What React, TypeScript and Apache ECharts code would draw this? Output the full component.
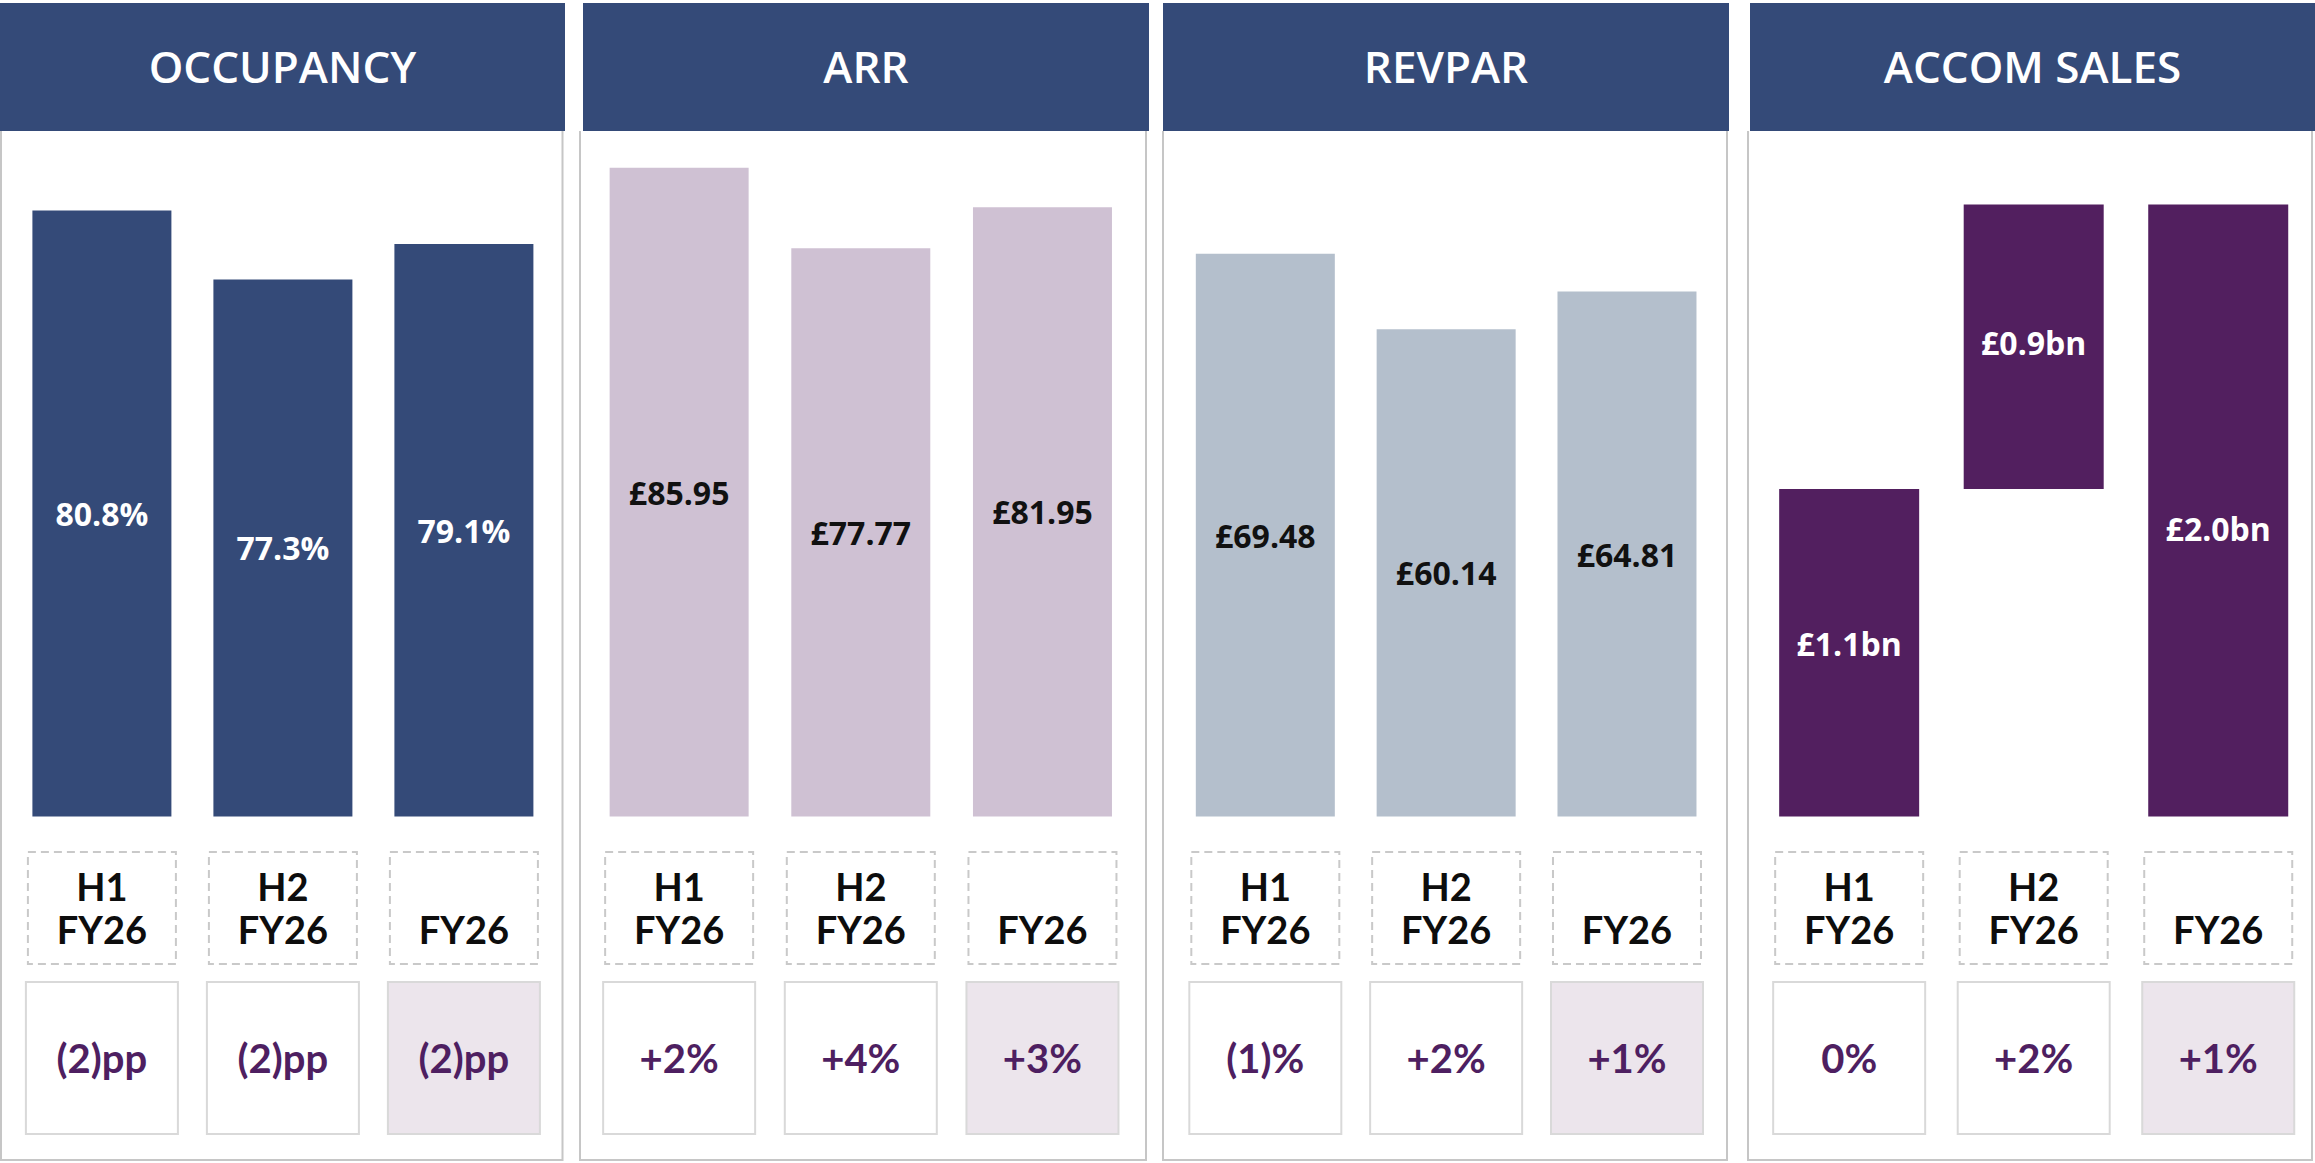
import React, { useEffect, useRef } from "react";
import * as echarts from "echarts";

// ---- data ----
const panelTitles = ["OCCUPANCY", "ARR", "REVPAR", "ACCOM SALES"];
const periods = ["H1 FY26", "H2 FY26", "FY26"];

const occupancy = [80.8, 77.3, 79.1];
const occupancyLabels = ["80.8%", "77.3%", "79.1%"];
const occupancyChange = ["(2)pp", "(2)pp", "(2)pp"];

const arr = [85.95, 77.77, 81.95];
const arrLabels = ["£85.95", "£77.77", "£81.95"];
const arrChange = ["+2%", "+4%", "+3%"];

const revpar = [69.48, 60.14, 64.81];
const revparLabels = ["£69.48", "£60.14", "£64.81"];
const revparChange = ["(1)%", "+2%", "+1%"];

const accomSales = [1.07, 0.93, 2.0]; // £bn
const accomBase = [0, 1.07, 0]; // waterfall offset (H2 sits on H1)
const accomLabels = ["£1.1bn", "£0.9bn", "£2.0bn"];
const accomChange = ["0%", "+2%", "+1%"];

// ---- layout / style (not data) ----
const W = 2315;
const H = 1163;
const NAVY = "#344a78";
const PURPLE_TXT = "#4e1f61";
const accomLabelShift = [-9, -4, 18];

const panels = [
  {
    values: occupancy, labels: occupancyLabels, change: occupancyChange,
    color: NAVY, labelColor: "#ffffff", min: 50, max: 85,
    gridLeft: 11.4, gridWidth: 543, barWidth: 139,
    header: [0, 565], body: [1, 562.5],
  },
  {
    values: arr, labels: arrLabels, change: arrChange,
    color: "#cfc1d3", labelColor: "#111111", min: 20, max: 90,
    gridLeft: 588.3, gridWidth: 545, barWidth: 139,
    header: [583, 1149], body: [580, 1146],
  },
  {
    values: revpar, labels: revparLabels, change: revparChange,
    color: "#b4bfcc", labelColor: "#111111", min: 0, max: 85,
    gridLeft: 1174.9, gridWidth: 542.5, barWidth: 139,
    header: [1163, 1729], body: [1163, 1727],
  },
  {
    values: accomSales, labels: accomLabels, change: accomChange,
    color: "#521f5f", labelColor: "#ffffff", min: 0, max: 2.25,
    gridLeft: 1756.9, gridWidth: 553.6, barWidth: 140,
    header: [1750, 2315], body: [1748, 2312], base: accomBase,
    shift: accomLabelShift,
  },
];

const GRID_TOP = 128;
const GRID_BOTTOM_Y = 816.5;

export default function App() {
  const ref = useRef<HTMLDivElement>(null);

  useEffect(() => {
    if (!ref.current) return;
    const chart = echarts.init(ref.current, undefined, { renderer: "svg" });

    const grid: any[] = [];
    const xAxis: any[] = [];
    const yAxis: any[] = [];
    const series: any[] = [];
    const graphic: any[] = [];

    panels.forEach((p: any, i) => {
      grid.push({
        left: p.gridLeft,
        width: p.gridWidth,
        top: GRID_TOP,
        height: GRID_BOTTOM_Y - GRID_TOP,
        containLabel: false,
      });
      // period labels (dashed boxes)
      xAxis.push({
        type: "category",
        gridIndex: i,
        position: "bottom",
        data: periods,
        axisLine: { show: false },
        axisTick: { show: false },
        splitLine: { show: false },
        axisLabel: {
          interval: 0,
          margin: 35.5,
          formatter: (v: string) =>
            v.indexOf(" ") >= 0 ? v.replace(" ", "\n") : "\n" + v,
          fontFamily: "Lato",
          fontWeight: "bold",
          fontSize: 38,
          color: "#0d0d0d",
          lineHeight: 43,
          width: 148,
          height: 86,
          align: "center",
          padding: [12, 0, 14, 0],
          borderColor: "#c9c9c9",
          borderWidth: 2,
          borderType: [8, 5],
        },
      });
      // change labels (solid boxes)
      xAxis.push({
        type: "category",
        gridIndex: i,
        position: "bottom",
        offset: 0,
        data: periods.map((v, k) =>
          k === periods.length - 1
            ? { value: v, textStyle: { backgroundColor: "#ece5ec" } }
            : { value: v }
        ),
        axisLine: { show: false },
        axisTick: { show: false },
        splitLine: { show: false },
        axisLabel: {
          interval: 0,
          margin: 166.5,
          formatter: (_v: string, k: number) => p.change[k],
          fontFamily: "Lato",
          fontWeight: "bold",
          fontSize: 40,
          color: PURPLE_TXT,
          width: 150,
          height: 150,
          lineHeight: 150,
          align: "center",
          backgroundColor: "#ffffff",
          borderColor: "#d9d9d9",
          borderWidth: 2,
        },
      });
      yAxis.push({
        type: "value",
        gridIndex: i,
        min: p.min,
        max: p.max,
        show: false,
        splitLine: { show: false },
      });

      const labelCfg = {
        show: true,
        position: "inside",
        formatter: (d: any) => p.labels[d.dataIndex],
        color: p.labelColor,
        fontFamily: "Open Sans",
        fontWeight: "bold",
        fontSize: 32,
      };

      if (p.base) {
        series.push({
          type: "bar",
          xAxisIndex: i * 2,
          yAxisIndex: i,
          stack: "w" + i,
          data: p.base,
          barWidth: p.barWidth,
          itemStyle: { color: "transparent" },
          label: { show: false },
          silent: true,
        });
        series.push({
          type: "bar",
          xAxisIndex: i * 2,
          yAxisIndex: i,
          stack: "w" + i,
          data: p.values.map((v: number, k: number) => ({
            value: v,
            label: { offset: [0, p.shift[k]] },
          })),
          barWidth: p.barWidth,
          itemStyle: { color: p.color },
          label: labelCfg,
        });
      } else {
        series.push({
          type: "bar",
          xAxisIndex: i * 2,
          yAxisIndex: i,
          data: p.values,
          barWidth: p.barWidth,
          itemStyle: { color: p.color },
          label: labelCfg,
        });
      }

      // panel body border
      graphic.push({
        type: "polyline",
        shape: {
          points: [
            [p.body[0], 131],
            [p.body[0], 1160],
            [p.body[1], 1160],
            [p.body[1], 131],
          ],
        },
        style: { stroke: "#c6c6c6", lineWidth: 2, fill: null },
        z: 1,
      });
      // header
      graphic.push({
        type: "rect",
        shape: { x: p.header[0], y: 3, width: p.header[1] - p.header[0], height: 128 },
        style: { fill: NAVY },
        z: 2,
      });
      graphic.push({
        type: "text",
        x: (p.header[0] + p.header[1]) / 2,
        y: 66,
        style: {
          text: panelTitles[i],
          fill: "#ffffff",
          fontFamily: "Open Sans",
          fontWeight: 600,
          fontSize: 44,
          textAlign: "center",
          textVerticalAlign: "middle",
        },
        z: 3,
      });
    });

    chart.setOption({
      animation: false,
      backgroundColor: "#ffffff",
      grid,
      xAxis,
      yAxis,
      series,
      graphic,
    });

    return () => chart.dispose();
  }, []);

  return (
    <div
      ref={ref}
      style={{ position: "absolute", left: 0, top: 0, width: W, height: H }}
    />
  );
}
